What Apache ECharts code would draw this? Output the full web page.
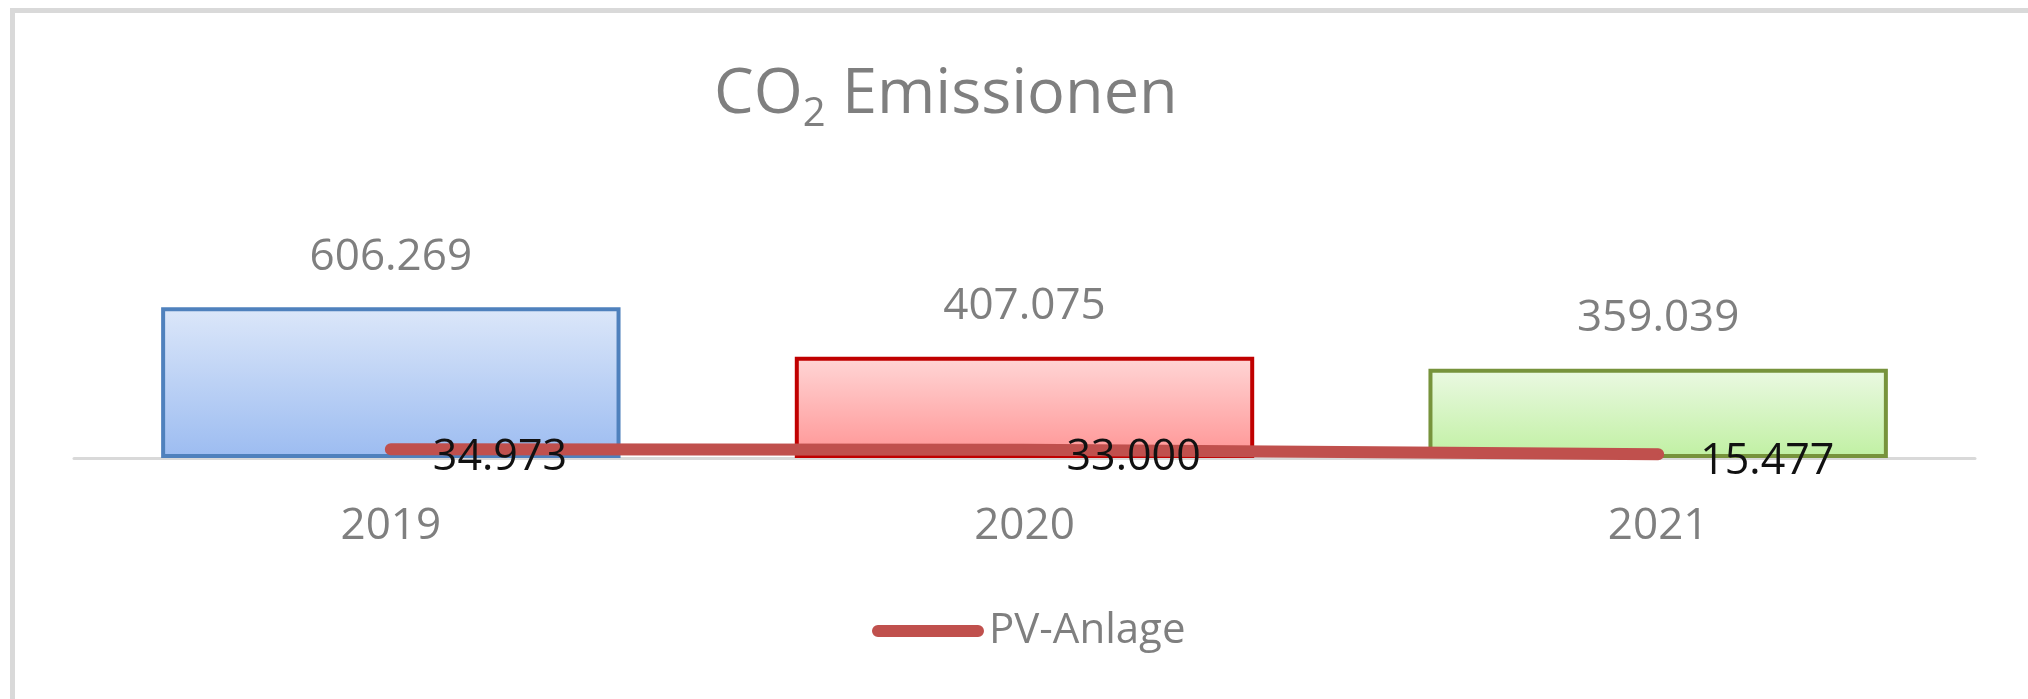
<!DOCTYPE html>
<html>
<head>
<meta charset="utf-8">
<script src="https://cdn.jsdelivr.net/npm/echarts@6/dist/echarts.min.js"></script>
<style>
  html, body { margin: 0; padding: 0; background: #fff; }
  #chart { width: 2028px; height: 699px; }
</style>
</head>
<body>
<div id="chart"></div>
<script>
// chart data
const years = ['2019', '2020', '2021'];
const emissions = [606.269, 407.075, 359.039];
const pvAnlage = [34.973, 33.000, 15.477];

// excel-ish bar looks, one per year
const barLooks = [
    { top: '#dce7f9', bottom: '#9cbcf1', border: '#4f81bd' },
    { top: '#ffd6d6', bottom: '#ff9494', border: '#c00000' },
    { top: '#ebf9e3', bottom: '#c0f0a2', border: '#77933c' }
];

const font = '"Open Sans", "Noto Sans", sans-serif';
const gray = '#7f7f7f';
const pvRed = '#c0504d';

const chart = echarts.init(document.getElementById('chart'));

chart.setOption({
    backgroundColor: '#ffffff',
    animation: false,
    title: {
        text: 'CO{sub|2} Emissionen',
        left: 709,
        top: 50,
        textStyle: {
            fontFamily: font,
            fontSize: 63,
            fontWeight: 'normal',
            color: gray,
            rich: {
                sub: {
                    fontFamily: font,
                    fontSize: 40,
                    color: gray,
                    padding: [40, 0, 0, 0]
                }
            }
        }
    },
    legend: {
        data: ['PV-Anlage'],
        left: 867,
        top: 605,
        icon: 'path://M6,0 L107,0 A6,6 0 0 1 107,12 L6,12 A6,6 0 0 1 6,0 Z',
        itemWidth: 112,
        itemHeight: 12,
        itemStyle: { color: pvRed },
        textStyle: { fontFamily: font, fontSize: 42, color: gray }
    },
    // frame: only top and left edges are visible in the original
    graphic: [{
        type: 'polyline',
        shape: { points: [[12.5, 699], [12.5, 10.5], [2028, 10.5]] },
        style: { fill: null, stroke: '#d9d9d9', lineWidth: 5 },
        silent: true
    }],
    grid: { left: 74, right: 53, top: 259, bottom: 241 },
    xAxis: {
        type: 'category',
        data: years,
        axisLine: { lineStyle: { color: '#d9d9d9', width: 3 } },
        axisTick: { show: false },
        axisLabel: { fontFamily: font, fontSize: 44, color: gray, margin: 46 }
    },
    yAxis: {
        type: 'value',
        min: 0,
        max: 800,
        show: false,
        splitLine: { show: false }
    },
    series: [
        {
            name: 'CO2',
            type: 'bar',
            barCategoryGap: '27.5%',
            data: emissions.map((v, i) => ({
                value: v,
                itemStyle: {
                    color: new echarts.graphic.LinearGradient(0, 0, 0, 1, [
                        { offset: 0, color: barLooks[i].top },
                        { offset: 1, color: barLooks[i].bottom }
                    ]),
                    borderColor: barLooks[i].border,
                    borderWidth: 4
                }
            })),
            label: {
                show: true,
                position: 'top',
                distance: 28,
                fontFamily: font,
                fontSize: 44,
                color: gray,
                formatter: p => p.value.toFixed(3)
            },
            z: 2
        },
        {
            name: 'PV-Anlage',
            type: 'line',
            data: pvAnlage,
            symbol: 'circle',
            symbolSize: 2,
            showSymbol: true,
            lineStyle: { color: pvRed, width: 12, cap: 'round' },
            itemStyle: { color: pvRed },
            label: {
                show: true,
                // relative to the tiny symbol box, text pushed right and a bit down
                position: [43, 9],
                align: 'left',
                verticalAlign: 'middle',
                fontFamily: font,
                fontSize: 43,
                color: '#111',
                formatter: p => p.value.toFixed(3)
            },
            labelLayout: { hideOverlap: false },
            z: 3
        }
    ]
});
</script>
</body>
</html>
